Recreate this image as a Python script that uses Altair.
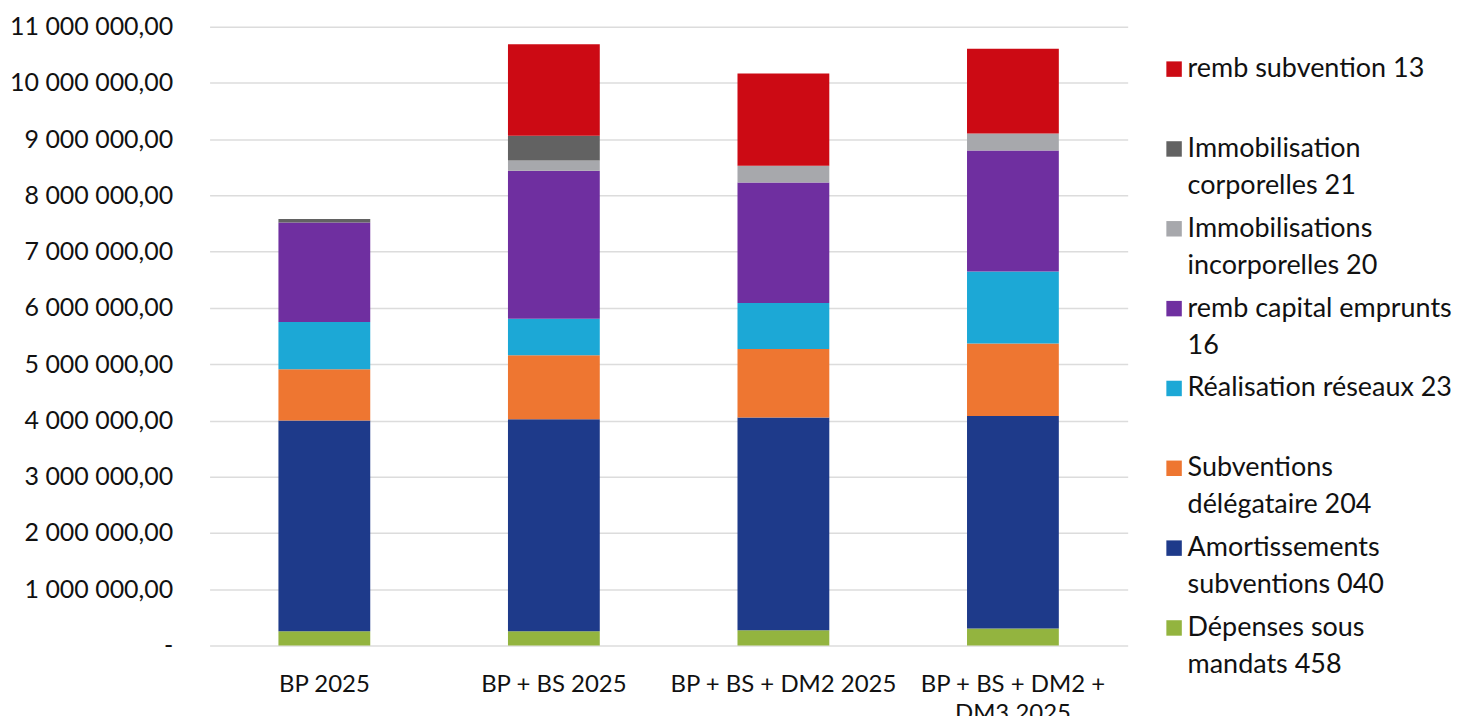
import altair as alt
import pandas as pd

categories = ["BP 2025", "BP + BS 2025", "BP + BS + DM2 2025", "BP + BS + DM2 + DM3 2025"]
series = [
    "Dépenses sous mandats 458",
    "Amortissements subventions 040",
    "Subventions délégataire 204",
    "Réalisation réseaux 23",
    "remb capital emprunts 16",
    "Immobilisations incorporelles 20",
    "Immobilisation corporelles 21",
    "remb subvention 13",
]
colors = ["#93B43F", "#1E3A8A", "#EE7631", "#1CA8D6", "#6F2FA0", "#A7A8AC", "#626262", "#CC0A14"]

depenses = [250000, 250000, 270000, 300000]
amortissements = [3750000, 3770000, 3780000, 3780000]
subventions = [910000, 1140000, 1220000, 1290000]
reseaux = [840000, 650000, 820000, 1280000]
emprunts = [1770000, 2630000, 2140000, 2150000]
incorporelles = [0, 180000, 300000, 300000]
corporelles = [60000, 440000, 0, 0]
remb_subvention = [0, 1630000, 1640000, 1510000]

values = [depenses, amortissements, subventions, reseaux, emprunts,
          incorporelles, corporelles, remb_subvention]

# legend text wrapped as in the reference
legend_lines = {
    "remb subvention 13": ["remb subvention 13"],
    "Immobilisation corporelles 21": ["Immobilisation", "corporelles 21"],
    "Immobilisations incorporelles 20": ["Immobilisations", "incorporelles 20"],
    "remb capital emprunts 16": ["remb capital emprunts", "16"],
    "Réalisation réseaux 23": ["Réalisation réseaux 23"],
    "Subventions délégataire 204": ["Subventions", "délégataire 204"],
    "Amortissements subventions 040": ["Amortissements", "subventions 040"],
    "Dépenses sous mandats 458": ["Dépenses sous", "mandats 458"],
}

rows = []
for i, (name, vals) in enumerate(zip(series, values)):
    for cat, v in zip(categories, vals):
        rows.append({"categorie": cat, "serie": name, "valeur": v, "ordre": i})
df = pd.DataFrame(rows)

def arr(lines):
    return "[" + ", ".join("'" + l + "'" for l in lines) + "]"

legend_expr = ""
for k, lines in legend_lines.items():
    legend_expr += f"datum.label == '{k}' ? {arr(lines)} : "
legend_expr += "datum.label"

FONT = "Lato"

chart = alt.Chart(df).mark_bar().encode(
    x=alt.X("categorie:N", sort=categories, title=None,
            scale=alt.Scale(paddingInner=0.6, paddingOuter=0.3),
            axis=alt.Axis(labelAngle=0, domain=False, ticks=False, labelPadding=27,
                          labelFontSize=24, labelFont=FONT, labelColor="#111111",
                          labelLineHeight=29, labelLimit=400,
                          labelExpr="datum.label == 'BP + BS + DM2 + DM3 2025' ? ['BP + BS + DM2 +', 'DM3 2025'] : datum.label")),
    y=alt.Y("valeur:Q", stack="zero", title=None,
            scale=alt.Scale(domain=[0, 11000000], nice=False),
            axis=alt.Axis(values=[i * 1000000 for i in range(12)], domain=False, ticks=False,
                          gridColor="#dcdcdc", gridWidth=1.5,
                          labelFontSize=25, labelFont=FONT, labelColor="#111111", labelPadding=37,
                          labelExpr="datum.value == 0 ? '-' : replace(replace(replace(format(datum.value, ',.2f'), '.', ';'), regexp(',', 'g'), ' '), ';', ',')")),
    color=alt.Color("serie:N",
                    scale=alt.Scale(domain=list(reversed(series)), range=list(reversed(colors))),
                    legend=alt.Legend(title=None, orient="none", legendX=953, legendY=29,
                                      symbolType="square", symbolSize=240, symbolStrokeWidth=0,
                                      labelFont=FONT, labelFontSize=27, labelColor="#111111",
                                      labelLimit=400, gridAlign="all", rowPadding=15,
                                      labelBaseline="middle", labelOffset=0,
                                      labelExpr=legend_expr)),
    order=alt.Order("ordre:Q", sort="ascending"),
).properties(
    width=920, height=620,
    padding={"top": 6, "left": 1, "right": 5, "bottom": 0},
).configure(
    style={"guide-label": {"lineHeight": 37}},
    view={"strokeWidth": 0},
)

chart.save("out.html", embed_options={"renderer": "svg", "actions": False})
